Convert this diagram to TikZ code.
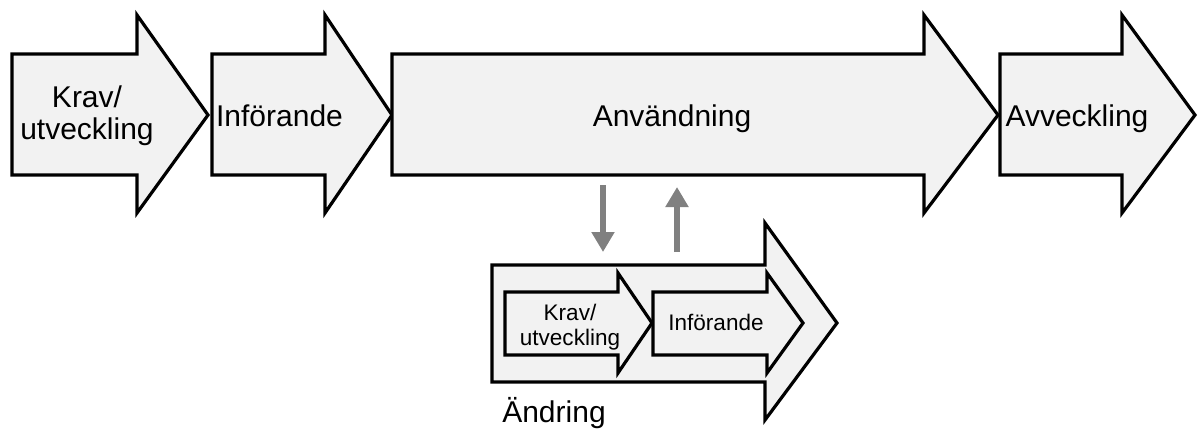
\documentclass[tikz,border=0pt]{standalone}
\usepackage{fontspec}
\setmainfont{Liberation Sans}
\usetikzlibrary{arrows.meta}
\begin{document}
\begin{tikzpicture}[x=0.75pt, y=-0.75pt,
  blockarrow/.style={draw=black, line width=2.4pt, fill=black!5, line join=miter},
  bigtext/.style={font=\fontsize{22.5}{24}\selectfont, inner sep=0pt, align=center},
  smalltext/.style={font=\fontsize{16.9}{18.75}\selectfont, inner sep=0pt, align=center},
  flow/.style={draw=black!50, line width=5pt, -{Triangle[length=15pt, width=16.5pt]}}]
\useasboundingbox (0,0) rectangle (1198,435);

% main life-cycle phases
\draw[blockarrow] (12,54) -- (137,54) -- (137,15) -- (208,115) -- (137,213) -- (137,175) -- (12,175) -- cycle;
\draw[blockarrow] (212,54) -- (325,54) -- (325,15) -- (392,115) -- (325,213) -- (325,175) -- (212,175) -- cycle;
\draw[blockarrow] (392,54) -- (924,54) -- (924,15) -- (998,115) -- (924,213) -- (924,175) -- (392,175) -- cycle;
\draw[blockarrow] (1000,54) -- (1122,54) -- (1122,15) -- (1195,115) -- (1122,213) -- (1122,175) -- (1000,175) -- cycle;

\node[bigtext] (krav) at (87,116) {Krav/\\utveckling};
\node[bigtext, anchor=base] (inf) at (279.5,126) {Införande};
\node[bigtext, anchor=base] (anv) at (672,126) {Användning};
\node[bigtext, anchor=base] (avv) at (1077,126) {Avveckling};

% change cycle
\draw[blockarrow] (492,265) -- (765,265) -- (765,223) -- (837,323) -- (765,420) -- (765,382) -- (492,382) -- cycle;
\draw[blockarrow] (505,292) -- (618,292) -- (618,273) -- (652,323) -- (618,373) -- (618,355) -- (505,355) -- cycle;
\draw[blockarrow] (653,292) -- (767,292) -- (767,273) -- (803,323) -- (767,373) -- (767,355) -- (653,355) -- cycle;

\node[smalltext] (skrav) at (570,327) {Krav/\\utveckling};
\node[smalltext, anchor=base] (sinf) at (716,330) {Införande};
\node[bigtext, anchor=base] (andr) at (554,422) {Ändring};

% exchange between use and change
\coordinate (outtop) at (603,185);
\coordinate (outbot) at (603,252);
\coordinate (inbot) at (677,252);
\coordinate (intop) at (677,187);
\draw[flow] (outtop) -- (outbot);
\draw[flow] (inbot) -- (intop);
\end{tikzpicture}
\end{document}
